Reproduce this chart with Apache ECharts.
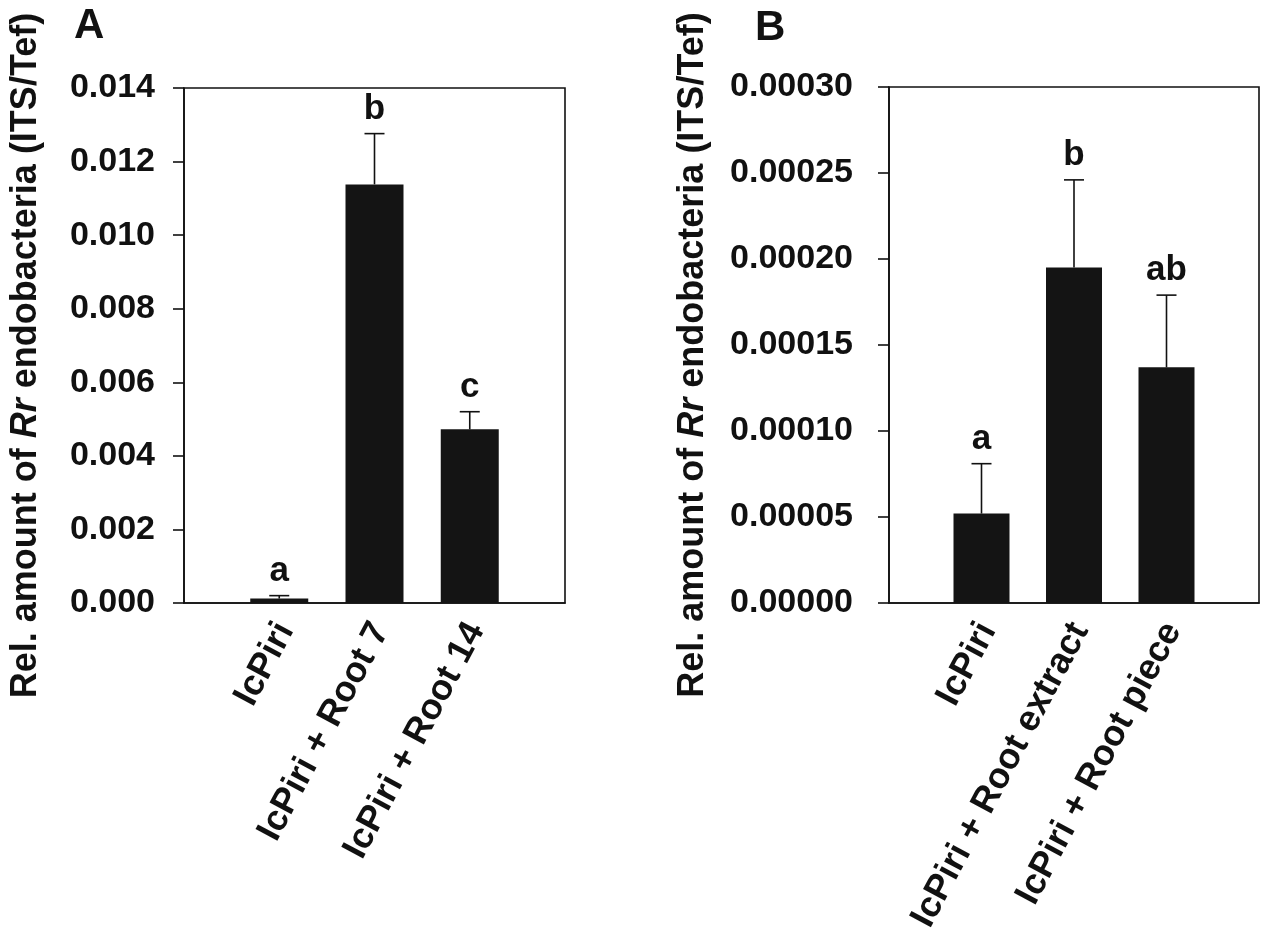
<!DOCTYPE html>
<html lang="en">
<head>
    <meta charset="UTF-8">
    <title>Rr endobacteria</title>
    <script src="https://cdn.jsdelivr.net/npm/echarts@6/dist/echarts.min.js"></script>
    <style>
        html, body { margin: 0; padding: 0; background: #fff; }
        #chart { width: 1267px; height: 947px; }
    </style>
</head>
<body>
<div id="chart"></div>

<script>
    // panel A
    var catsA = ['IcPiri', 'IcPiri + Root 7', 'IcPiri + Root 14'];
    var meanA = [0.00012, 0.01138, 0.00472];
    var errA = [0.00008, 0.00138, 0.00048];
    var lettersA = ['a', 'b', 'c'];
    var ticksA = { min: 0, max: 0.014, step: 0.002 };

    // panel B
    var catsB = ['IcPiri', 'IcPiri + Root extract', 'IcPiri + Root piece'];
    var meanB = [0.000052, 0.000195, 0.000137];
    var errB = [0.000029, 0.000051, 0.000042];
    var lettersB = ['a', 'b', 'ab'];
    var ticksB = { min: 0, max: 0.0003, step: 0.00005 };

    var FONT = '"Liberation Sans", Arial, sans-serif';
    var yName = '{n|Rel. amount of }{i|Rr}{n| endobacteria (ITS/Tef)}';
    var nameRich = {
        n: { fontFamily: FONT, fontWeight: 'bold', fontSize: 36, color: '#111' },
        i: { fontFamily: FONT, fontWeight: 'bold', fontStyle: 'italic', fontSize: 36, color: '#111' }
    };

    function pairs(vals) {
        var out = [];
        for (var i = 0; i < vals.length; i++) out.push([i + 1, vals[i]]);
        return out;
    }
    function triples(vals, errs) {
        var out = [];
        for (var i = 0; i < vals.length; i++) out.push([i + 1, vals[i], errs[i]]);
        return out;
    }

    // error bar (upper only) plus the significance letter above the cap
    function errRender(letters) {
        return function (params, api) {
            var x = api.value(0), y = api.value(1), e = api.value(2);
            var p0 = api.coord([x, y]);
            var p1 = api.coord([x, y + e]);
            var st = { stroke: '#111', lineWidth: 1.6 };
            return {
                type: 'group',
                children: [
                    { type: 'line', shape: { x1: p0[0], y1: p0[1], x2: p1[0], y2: p1[1] }, style: st },
                    { type: 'line', shape: { x1: p1[0] - 10, y1: p1[1], x2: p1[0] + 10, y2: p1[1] }, style: st },
                    {
                        type: 'text', x: p1[0], y: p1[1] - 7,
                        style: {
                            text: letters[params.dataIndex], fill: '#111',
                            font: 'bold 35px ' + FONT, align: 'center', verticalAlign: 'bottom'
                        }
                    }
                ]
            };
        };
    }

    function xAxisFor(idx, cats) {
        return {
            gridIndex: idx, type: 'value', min: 0, max: 4, interval: 1,
            axisLine: { show: true, lineStyle: { color: '#111', width: 1.6 } },
            axisTick: { show: false },
            splitLine: { show: false },
            axisLabel: {
                rotate: 62, margin: 19, color: '#111',
                fontFamily: FONT, fontWeight: 'bold', fontSize: 36,
                verticalAlign: 'top', lineHeight: 14,
                showMinLabel: true, showMaxLabel: true,
                formatter: function (v) { return cats[v - 1] || ''; }
            }
        };
    }

    function yAxisFor(idx, t, digits, gap, labelMargin) {
        return {
            gridIndex: idx, type: 'value', min: t.min, max: t.max, interval: t.step,
            name: yName, nameLocation: 'middle', nameRotate: 90, nameGap: gap,
            nameTextStyle: { rich: nameRich, padding: [0, 20, 0, 0] },
            axisLine: { show: true, lineStyle: { color: '#111', width: 1.6 } },
            axisTick: { show: true, inside: false, length: 11, lineStyle: { color: '#111', width: 1.6 } },
            splitLine: { show: false },
            axisLabel: {
                margin: labelMargin, color: '#111',
                fontFamily: FONT, fontWeight: 'bold', fontSize: 34,
                formatter: function (v) { return v.toFixed(digits); }
            }
        };
    }

    var chart = echarts.init(document.getElementById('chart'));
    var option = {
        animation: false,
        backgroundColor: '#fff',
        title: [
            { text: 'A', left: 69, top: 0, textStyle: { fontFamily: FONT, fontWeight: 'bold', fontSize: 42, color: '#111' } },
            { text: 'B', left: 750, top: 2, textStyle: { fontFamily: FONT, fontWeight: 'bold', fontSize: 42, color: '#111' } }
        ],
        grid: [
            { left: 184, right: 702, top: 88, bottom: 344, show: true, borderColor: '#111', borderWidth: 1.6 },
            { left: 889, right: 8, top: 87, bottom: 344, show: true, borderColor: '#111', borderWidth: 1.6 }
        ],
        xAxis: [xAxisFor(0, catsA), xAxisFor(1, catsB)],
        yAxis: [yAxisFor(0, ticksA, 3, 140, 29), yAxisFor(1, ticksB, 5, 178, 36)],
        series: [
            {
                type: 'bar', xAxisIndex: 0, yAxisIndex: 0, barWidth: 58,
                itemStyle: { color: '#141414' }, data: pairs(meanA)
            },
            {
                type: 'custom', xAxisIndex: 0, yAxisIndex: 0, z: 5,
                renderItem: errRender(lettersA), data: triples(meanA, errA)
            },
            {
                type: 'bar', xAxisIndex: 1, yAxisIndex: 1, barWidth: 56,
                itemStyle: { color: '#141414' }, data: pairs(meanB)
            },
            {
                type: 'custom', xAxisIndex: 1, yAxisIndex: 1, z: 5,
                renderItem: errRender(lettersB), data: triples(meanB, errB)
            }
        ]
    };
    chart.setOption(option);
</script>
</body>
</html>
